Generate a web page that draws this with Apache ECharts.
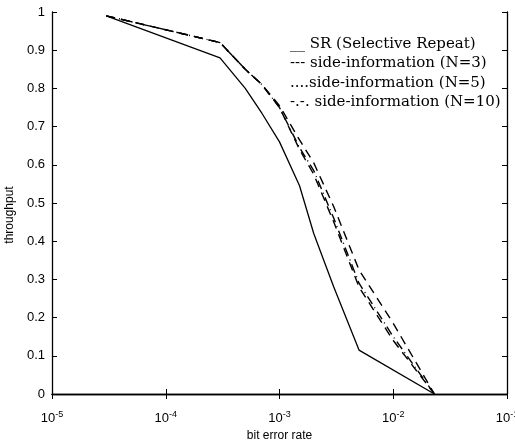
<!DOCTYPE html>
<html>
<head>
<meta charset="utf-8">
<script src="https://cdn.jsdelivr.net/npm/echarts@6/dist/echarts.min.js"></script>
<style>
html,body{margin:0;padding:0;background:#fff;}
#chart{width:515px;height:447px;}
</style>
</head>
<body>
<div id="chart"></div>
<script>
// ---- data ----
const seriesNames = [
  'SR (Selective Repeat)',
  'side-information (N=3)',
  'side-information (N=5)',
  'side-information (N=10)'
];
const legendPrefixes = ['__ ', '--- ', '....', '-.-. '];

const berSR = [3e-5, 3e-4, 5e-4, 7e-4, 1e-3, 1.5e-3, 2e-3, 3e-3, 5e-3, 2.3e-2];
const thrSR = [0.99, 0.88, 0.80, 0.735, 0.66, 0.545, 0.42, 0.28, 0.115, 0];

const berSide = [3e-5, 3e-4, 5e-4, 7e-4, 1e-3, 1.5e-3, 2e-3, 3e-3, 5e-3, 1e-2, 2.3e-2];
const thrN3  = [0.99, 0.92, 0.85, 0.81, 0.755, 0.665, 0.605, 0.49, 0.325, 0.185, 0];
const thrN5  = [0.99, 0.92, 0.85, 0.81, 0.75, 0.64, 0.575, 0.45, 0.28, 0.14, 0];
const thrN10 = [0.99, 0.92, 0.85, 0.81, 0.75, 0.645, 0.585, 0.46, 0.29, 0.15, 0];

const xTickExps = [-5, -4, -3, -2, -1];
const yTicks = [0, 0.1, 0.2, 0.3, 0.4, 0.5, 0.6, 0.7, 0.8, 0.9, 1];

const xName = 'bit error rate';
const yName = 'throughput';

// ---- chart ----
const pair = (xs, ys) => xs.map((x, i) => [x, ys[i]]);
const lineFont = 'Liberation Sans, Arial, sans-serif';
const axisCommon = {
  axisLine: { show: true, lineStyle: { color: '#000', width: 1.3 } },
  axisTick: { show: true, inside: true, length: 5, lineStyle: { color: '#000', width: 1 } },
  splitLine: { show: false },
  minorTick: { show: false }
};

const chart = echarts.init(document.getElementById('chart'), null, { renderer: 'canvas' });
chart.setOption({
  backgroundColor: '#fff',
  animation: false,
  grid: { left: 52, right: 8, top: 12, bottom: 53, containLabel: false, outerBoundsMode: 'none' },
  legend: {
    orient: 'vertical',
    left: 280,
    top: 30,
    icon: 'none',
    itemWidth: 0,
    itemHeight: 14,
    itemGap: 1.5,
    data: seriesNames,
    formatter: name => legendPrefixes[seriesNames.indexOf(name)] + name,
    textStyle: { fontFamily: 'DejaVu Serif, Liberation Serif, serif', fontSize: 15, color: '#000', lineHeight: 18 },
    selectedMode: false
  },
  xAxis: [
    Object.assign({}, axisCommon, {
      type: 'log', logBase: 10, min: 1e-5, max: 1e-1, position: 'bottom',
      name: xName, nameLocation: 'middle', nameGap: 34,
      nameTextStyle: { fontFamily: lineFont, fontSize: 12, color: '#000' },
      axisLabel: {
        margin: 16,
        formatter: v => '{b|10}{s|' + Math.round(Math.log10(v)) + '}',
        rich: {
          b: { fontFamily: lineFont, fontSize: 13, color: '#000' },
          s: { fontFamily: lineFont, fontSize: 9, color: '#000', padding: [0, 0, 8, 0] }
        }
      }
    }),
    Object.assign({}, axisCommon, {
      type: 'log', logBase: 10, min: 1e-5, max: 1e-1, position: 'top',
      axisLabel: { show: false }
    })
  ],
  yAxis: [
    Object.assign({}, axisCommon, {
      type: 'value', min: 0, max: 1, interval: 0.1, position: 'left',
      name: yName, nameLocation: 'middle', nameGap: 28, nameRotate: 90,
      nameTextStyle: { fontFamily: lineFont, fontSize: 12, color: '#000', padding: [0, 24, 0, 0] },
      axisLabel: {
        margin: 7,
        fontFamily: lineFont, fontSize: 13, color: '#000',
        formatter: v => (v === 0 ? '0' : v === 1 ? '1' : v.toFixed(1))
      }
    }),
    Object.assign({}, axisCommon, {
      type: 'value', min: 0, max: 1, interval: 0.1, position: 'right',
      axisLabel: { show: false }
    })
  ],
  series: [
    { name: seriesNames[0], type: 'line', symbol: 'none', data: pair(berSR, thrSR),
      lineStyle: { color: '#000', width: 1.3, type: 'solid' } },
    { name: seriesNames[1], type: 'line', symbol: 'none', data: pair(berSide, thrN3),
      lineStyle: { color: '#000', width: 1.4, type: [9, 6] } },
    { name: seriesNames[2], type: 'line', symbol: 'none', data: pair(berSide, thrN5),
      lineStyle: { color: '#000', width: 1.4, type: [9, 6] } },
    { name: seriesNames[3], type: 'line', symbol: 'none', data: pair(berSide, thrN10),
      lineStyle: { color: '#000', width: 1.4, type: [9, 4, 1, 4] } }
  ]
});
</script>
</body>
</html>
